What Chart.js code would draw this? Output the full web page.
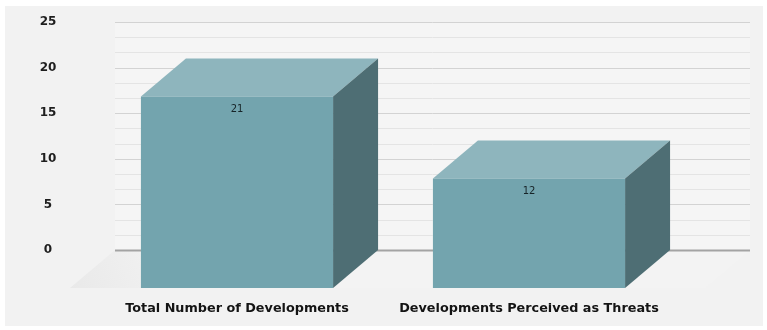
<!DOCTYPE html>
<html>
<head>
<meta charset="utf-8">
<script src="https://cdn.jsdelivr.net/npm/chart.js@4"></script>
<style>
  html, body { margin: 0; padding: 0; background: #ffffff; }
  #wrap { width: 767px; height: 330px; position: relative; }
</style>
</head>
<body>
<div id="wrap"><canvas id="myChart" width="767" height="330"></canvas></div>
<script>
// chart data
const categories = ['Total Number of Developments', 'Developments Perceived as Threats'];
const developments = [21, 12];
const tickValues = [0, 5, 10, 15, 20, 25];

// box depth (front face is shifted left/down from the back plane)
const DX = 45;
const DY = 38;

const front = '#73a4ae';
const topFace = '#8eb5bd';
const sideFace = '#4e6e74';

const boxes3d = {
    id: 'boxes3d',
    beforeDraw(chart) {
        const ctx = chart.ctx;
        const area = chart.chartArea;
        const y = chart.scales.y;
        const wallL = area.left - 21;
        const wallR = area.right + 30;

        // panel
        ctx.save();
        ctx.fillStyle = '#f2f2f2';
        ctx.fillRect(5, 6, 758, 320);

        // back wall
        ctx.fillStyle = '#f5f5f5';
        ctx.fillRect(wallL, y.getPixelForValue(25), wallR - wallL, y.getPixelForValue(0) - y.getPixelForValue(25));

        // floor
        const base = y.getPixelForValue(0);
        const g = ctx.createLinearGradient(wallL - DX, base + DY, wallL + 60, base - 10);
        g.addColorStop(0, '#e9e9e9');
        g.addColorStop(1, '#f3f3f3');
        ctx.fillStyle = g;
        ctx.beginPath();
        ctx.moveTo(wallL, base);
        ctx.lineTo(wallR, base);
        ctx.lineTo(wallR - DX, base + DY);
        ctx.lineTo(wallL - DX, base + DY);
        ctx.closePath();
        ctx.fill();

        // minor grid
        ctx.strokeStyle = '#e4e4e4';
        ctx.lineWidth = 1;
        for (let i = 0; i < tickValues.length - 1; i++) {
            for (let k = 1; k < 3; k++) {
                const v = tickValues[i] + (tickValues[i + 1] - tickValues[i]) * k / 3;
                const py = Math.round(y.getPixelForValue(v)) + 0.5;
                ctx.beginPath();
                ctx.moveTo(wallL, py);
                ctx.lineTo(wallR, py);
                ctx.stroke();
            }
        }
        // major grid
        tickValues.forEach(v => {
            const py = Math.round(y.getPixelForValue(v)) + 0.5;
            ctx.strokeStyle = v === 0 ? '#a3a3a3' : '#d3d3d3';
            ctx.lineWidth = v === 0 ? 2 : 1;
            ctx.beginPath();
            ctx.moveTo(wallL, py);
            ctx.lineTo(wallR, py);
            ctx.stroke();
        });

        // y tick labels
        ctx.fillStyle = '#1e1e1e';
        ctx.font = 'bold 12px "DejaVu Sans"';
        ctx.textAlign = 'center';
        ctx.textBaseline = 'middle';
        tickValues.forEach(v => {
            ctx.fillText(String(v), 48, y.getPixelForValue(v));
        });
        ctx.restore();
    },
    beforeDatasetsDraw(chart) {
        const ctx = chart.ctx;
        const meta = chart.getDatasetMeta(0);
        ctx.save();
        meta.data.forEach(bar => {
            const p = bar.getProps(['x', 'y', 'base', 'width'], true);
            const l = p.x - p.width / 2;
            const r = p.x + p.width / 2;
            // top face
            ctx.fillStyle = topFace;
            ctx.beginPath();
            ctx.moveTo(l - DX, p.y + DY);
            ctx.lineTo(r - DX, p.y + DY);
            ctx.lineTo(r, p.y);
            ctx.lineTo(l, p.y);
            ctx.closePath();
            ctx.fill();
            // side face
            ctx.fillStyle = sideFace;
            ctx.beginPath();
            ctx.moveTo(r - DX, p.y + DY);
            ctx.lineTo(r, p.y);
            ctx.lineTo(r, p.base);
            ctx.lineTo(r - DX, p.base + DY);
            ctx.closePath();
            ctx.fill();
        });
        ctx.restore();
        // front faces are the chart's own bars, moved forward
        ctx.save();
        ctx.translate(-DX, DY);
    },
    afterDatasetsDraw(chart) {
        const ctx = chart.ctx;
        ctx.restore();
        const meta = chart.getDatasetMeta(0);
        ctx.save();
        ctx.textAlign = 'center';
        ctx.textBaseline = 'middle';
        meta.data.forEach((bar, i) => {
            const p = bar.getProps(['x', 'y', 'base'], true);
            ctx.fillStyle = '#172428';
            ctx.font = '10px "DejaVu Sans"';
            ctx.fillText(String(developments[i]), p.x - DX, p.y + DY + 13);
            ctx.fillStyle = '#141414';
            ctx.font = 'bold 12.8px "DejaVu Sans"';
            ctx.fillText(categories[i], p.x - DX, p.base + DY + 21);
        });
        ctx.restore();
    }
};

document.addEventListener('DOMContentLoaded', () => {
    const ctx = document.getElementById('myChart').getContext('2d');
    new Chart(ctx, {
        type: 'bar',
        data: {
            labels: categories,
            datasets: [{
                data: developments,
                backgroundColor: front,
                borderWidth: 0,
                categoryPercentage: 1,
                barPercentage: 0.658,
                clip: false
            }]
        },
        options: {
            responsive: false,
            animation: false,
            layout: { padding: { left: 136, right: 47, top: 22, bottom: 80 } },
            plugins: { legend: { display: false }, tooltip: { enabled: false } },
            scales: {
                x: { display: false },
                y: { display: false, min: 0, max: 25 }
            }
        },
        plugins: [boxes3d]
    });
});
</script>
</body>
</html>
